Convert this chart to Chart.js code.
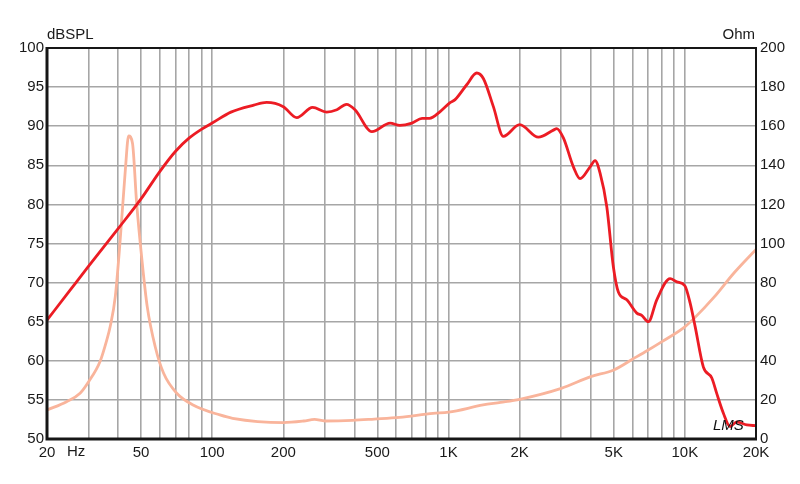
<!DOCTYPE html>
<html>
<head>
<meta charset="utf-8">
<script src="https://cdn.jsdelivr.net/npm/chart.js@4.4.1/dist/chart.umd.min.js"></script>
<style>
    body { margin: 0; background: #fff; }
    canvas { display: block; }
</style>
</head>
<body>
<canvas id="chart" width="800" height="484"></canvas>
<script>
// SPL curve (Hz -> dBSPL)
const splFreq = [20, 25, 30, 40, 50, 60, 70, 80, 90, 100, 120, 150, 170, 200, 228, 266, 305, 337, 370, 402,
    474, 566, 622, 700, 773, 831, 924, 1015, 1066, 1194, 1316, 1404, 1548, 1706, 2000, 2400, 2778, 2871,
    3062, 3376, 3602, 3972, 4170, 4378, 4674, 4984, 5232, 5680, 6260, 6572, 7010, 7606, 8662, 9246, 10000,
    10524, 11050, 11978, 13002, 13650, 14558, 15538, 16588, 18290, 20000];
const splDb = [65.2, 69.0, 72.1, 76.9, 80.7, 84.2, 86.8, 88.5, 89.6, 90.4, 91.8, 92.7, 93.05, 92.5, 91.1, 92.4, 91.8, 92.1, 92.8, 92.1,
    89.3, 90.4, 90.1, 90.4, 91.0, 91.0, 91.9, 93.0, 93.4, 95.3, 96.8, 96.1, 92.5, 88.7, 90.2, 88.6, 89.5, 89.7,
    88.5, 84.8, 83.3, 84.8, 85.6, 84.0, 79.7, 72.0, 68.8, 67.8, 66.1, 65.8, 65.0, 67.8, 70.5, 70.1, 69.6,
    67.4, 64.4, 59.2, 57.8, 55.8, 53.3, 51.6, 52.2, 51.8, 51.7];

// impedance curve (Hz -> Ohm)
const impFreq = [20, 24.2, 27.6, 30, 33.5, 35.8, 37, 38.9, 40.8, 42.9, 44.3, 46, 47.9, 50.6, 53.1, 57.4, 62.3,
    70.8, 83, 107.8, 122, 200, 244, 271, 300, 392, 485, 620, 860, 1000, 1400, 1660, 2000, 3000, 4000, 5000,
    6000, 7000, 8000, 10000, 10940, 13350, 16100, 20000];
const impOhm = [14.8, 19.1, 23.4, 29.3, 39.5, 50.6, 57.4, 72.8, 101.8, 137.6, 155, 151.3, 120.6, 89.9, 67.7, 47.2, 33.6,
    23.4, 17.4, 12.3, 10.6, 8.4, 9.2, 10.0, 9.2, 9.5, 10.2, 11.1, 13.1, 13.7, 17.4, 18.7, 20.3, 25.9, 31.9, 35.3,
    40.8, 45.5, 49.8, 57.4, 61.7, 72.8, 84.8, 97.0];

// vertical grid lines and the ones that get a label
const gridFreqs = [20, 30, 40, 50, 60, 70, 80, 90, 100, 200, 300, 400, 500, 600, 700, 800, 900,
    1000, 2000, 3000, 4000, 5000, 6000, 7000, 8000, 9000, 10000, 20000];
const labelFreqs = [20, 50, 100, 200, 500, 1000, 2000, 5000, 10000, 20000];
const labelTexts = ['20', '50', '100', '200', '500', '1K', '2K', '5K', '10K', '20K'];

const FONT = "'Liberation Sans', Arial, sans-serif";
const TEXT = '#1a1a1a';
const GRID = '#a6a6a6';

const extras = {
    id: 'extras',
    afterDraw(chart) {
        const { ctx, chartArea: a } = chart;
        ctx.save();
        // frame
        ctx.strokeStyle = '#161616';
        ctx.lineWidth = 2;
        ctx.beginPath();
        ctx.moveTo(a.left, a.top);
        ctx.lineTo(a.right, a.top);
        ctx.lineTo(a.right, a.bottom);
        ctx.stroke();
        ctx.lineWidth = 3;
        ctx.beginPath();
        ctx.moveTo(a.left, a.top - 1);
        ctx.lineTo(a.left, a.bottom);
        ctx.lineTo(a.right + 1, a.bottom);
        ctx.stroke();

        ctx.fillStyle = TEXT;
        ctx.font = '15px ' + FONT;
        ctx.textBaseline = 'middle';
        ctx.textAlign = 'left';
        ctx.fillText('dBSPL', a.left, 35);
        ctx.fillText('Hz', 67, 452);
        ctx.textAlign = 'right';
        ctx.fillText('Ohm', a.right - 1, 35);

        ctx.font = 'italic 15px ' + FONT;
        ctx.textAlign = 'left';
        ctx.fillStyle = '#111';
        ctx.fillText('LMS', 713, 426);
        ctx.restore();
    }
};

new Chart(document.getElementById('chart'), {
    type: 'line',
    data: {
        datasets: [{
            label: 'dBSPL',
            data: splFreq.map((f, i) => ({ x: f, y: splDb[i] })),
            borderColor: '#ec1c24',
            borderWidth: 2.8,
            pointRadius: 0,
            cubicInterpolationMode: 'monotone',
            yAxisID: 'y'
        }, {
            label: 'Ohm',
            data: impFreq.map((f, i) => ({ x: f, y: impOhm[i] })),
            borderColor: '#f9b49b',
            borderWidth: 2.8,
            pointRadius: 0,
            cubicInterpolationMode: 'monotone',
            yAxisID: 'y2'
        }]
    },
    options: {
        responsive: false,
        animation: false,
        layout: { padding: { top: 48, left: 0, right: 0, bottom: 0 } },
        plugins: { legend: { display: false }, tooltip: { enabled: false } },
        scales: {
            x: {
                type: 'logarithmic',
                min: 20,
                max: 20000,
                afterBuildTicks: s => { s.ticks = gridFreqs.map(v => ({ value: v })); },
                afterFit: s => { s.height = 45; },
                border: { display: false },
                grid: { color: GRID, lineWidth: 1.6, drawTicks: false },
                ticks: {
                    autoSkip: false,
                    maxRotation: 0,
                    padding: 5,
                    color: TEXT,
                    font: { family: FONT, size: 15 },
                    callback: v => {
                        const i = labelFreqs.indexOf(v);
                        return i >= 0 ? labelTexts[i] : '';
                    }
                }
            },
            y: {
                position: 'left',
                min: 50,
                max: 100,
                afterFit: s => { s.width = 47; },
                border: { display: false },
                grid: { color: GRID, lineWidth: 1.6, drawTicks: false },
                ticks: { stepSize: 5, padding: 3, color: TEXT, font: { family: FONT, size: 15 } }
            },
            y2: {
                position: 'right',
                min: 0,
                max: 200,
                afterFit: s => { s.width = 44; },
                border: { display: false },
                grid: { display: false, drawTicks: false },
                ticks: { stepSize: 20, padding: 4, color: TEXT, font: { family: FONT, size: 15 } }
            }
        }
    },
    plugins: [extras]
});
</script>
</body>
</html>
